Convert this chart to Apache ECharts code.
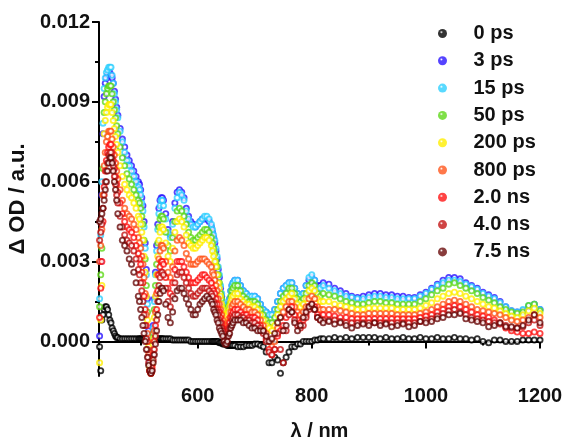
<!DOCTYPE html>
<html><head><meta charset="utf-8">
<script src="https://cdn.jsdelivr.net/npm/echarts@6/dist/echarts.min.js"></script>
<style>html,body{margin:0;padding:0;background:#fff}#c{width:564px;height:440px}</style>
</head><body><div id="c"></div>
<script>
// wavelengths (nm)
const WAVELENGTHS = [
428,430,432,434,436,438,440,442,444,446,448,450,452,454,456,458,460,
464,468,472,476,480,484,488,492,496,
498,500,502,504,506,508,510,512,514,516,518,520,522,524,526,528,530,532,534,536,538,540,
544,548,552,556,560,564,568,572,576,580,584,588,592,596,600,604,608,612,616,620,624,
626,628,630,632,634,636,638,640,642,644,646,648,650,652,654,656,658,660,662,
665,670,675,680,685,690,695,700,705,710,715,720,725,730,735,740,745,750,755,760,765,770,775,780,785,790,795,800,805,810,815,
820,830,840,850,860,870,880,890,900,910,920,930,940,950,960,970,980,990,1000,1010,1020,1030,1040,1050,1060,1070,1080,1090,1100,1110,1120,1130,1140,1150,1160,1170,1180,1190,1200];
// ΔOD values in units of 1e-4
const SCALE = 1e-4;
const OD_0ps = [
-2,-11,8,10,12,13,13,12,10,8,7,5,4,3,2,1.5,1.5,
1,1,1,1,1,1,1,1,1,
1,1,1,1,1,1,0.5,0.5,0.5,0.5,0.5,0.5,1,1,1,1,1,1,1,1,1,1,
1,1,1,0.5,0.5,0.5,0.5,0.5,0.5,0.5,0.5,0,0,0,0,0,0,0,0,0,0,
0,0,0,0,0,0,-0.5,-0.5,-0.5,-1,-1,-1,-1,-1.5,-1.5,-1.5,-1.5,-1.5,-1.5,
-1.5,-2,-2,-2,-1.5,-1.5,-1.5,-1,-1,-1.5,-2,-4,-8,-8,-6,-7,-12,-8,-6,-4,-2,-2,-1,-1,0,0,0,0,0.5,0.5,1,
1,1,1.5,1,1.5,1,1.5,1.5,1.5,1.5,1,1.5,1,1,1.5,1,1,1.5,1,1,1.5,1,1,1.5,1,1,0.5,1,0,-0.5,0.5,0.5,0,0,0,0.5,0.5,0.5,0.5];
const OD_3ps = [
2,30,55,78,92,97,99,100,101,101,100,99,97,94,91,88,85,
80,76,73,70,68,66,64,62,60,
59,57,54,51,45,37,27,16,4,-8,-11,-6,6,16,26,36,44,50,53,54,54,53,
48,42,40,45,52,56,57,56,54,50,47,45,44,43,44,45,46,46,46,45,43,
41,39,37,34,31,27,24,20,17,14,12,11,11,12,14,16,19,21,22,
23,23,21,19,18,17,17,17,16,14,12,11,10,10,12,15,18,20,21,22,22,20,18,17,18,21,23,24,23,21,21,
22,21.5,20,19,18,17,16.5,17,17.5,18,18,17.5,17.5,17,17,16.5,16.5,17.5,18.5,20,21.5,23,24,24,23.5,22,21,20,18.5,17.5,16.5,15,13,11.5,11,11.5,13,14,12];
const OD_15ps = [
16,40,60,82,95,99,101,102,103,103,103,100,97,93,90,87,84,
79,75,71,68,66,64,62,60,58,
57,55,52,49,43,35,25,14,2,-9,-11,-6,5,15,25,34,42,48,51,53,53,51,
46,41,39,44,50,54,56,55,53,49,46,44,43,43,44,45,46,47,47,46,44,
42,40,38,35,32,28,25,21,18,15,13,12,11,12,14,16,19,21,22,
23,23,21,19,18,17,17,17,16,14,12,11,10,10,12,15,18,20,21,22,22,20,18,17,18,21,24,25,23,20,20,
21,20,19,18,17,16.5,16,16,16.5,17,17,16.5,16.5,16,16,16,16,17,18,19.5,21,22,23,23,22.5,21.5,20.5,19.5,18,17,16,14.5,13,11.5,11,12,13.5,14,12];
const OD_50ps = [
13,25,35,65,86,90,93,95,96,96,96,93,90,87,84,81,78,
73,69,66,63,61,59,57,55,53,
52,50,47,44,38,31,21,11,0,-9,-11,-7,3,12,21,29,37,43,46,47,47,46,
41,36,34,39,45,49,50,49,47,44,41,39,38,38,39,40,41,42,42,41,39,
37,35,33,30,28,25,22,18,16,13,11,10,10,11,12,14,17,19,20,
21,21,19,17,16,15,15,15,14,12,10,8,7,7,9,12,15,17,18,20,20,18,16,15,16,18,21,22,21,18,17,
18,17.5,17,16,15,14.5,14,14,14.5,15,15,14.5,14.5,14,14,14,14,15,16,17.5,19,20,21.5,22,21,20,19,18,16.5,15.5,14.5,13,12,11,10.5,11,13.5,14,11.5];
const OD_200ps = [
-8,8,21,55,78,83,86,88,89,89,89,86,83,80,77,74,71,
66,62,59,57,55,54,52,50,47,
46,44,41,38,32,26,17,8,-2,-10,-12,-8,1,9,17,25,32,38,41,43,43,42,
37,32,30,35,41,45,46,45,43,40,37,36,35,35,36,37,38,39,39,38,36,
34,32,30,28,25,22,20,17,14,12,10,9,9,10,11,13,15,16,17,
18,18,16,15,14,14,13,13,12,10,8,6,5,4,6,10,13,15,16,17,18,16,14,13,14,16,19,20,19,16,15,
15,15,14,13.5,13,12.5,12,12,12.5,12.5,12.5,12.5,12.5,12,12,12,12,12.5,13.5,14.5,16,17,18,18.5,18,17,16,15,14,13,12.5,11.5,10.5,9.5,9,10,11.5,12.5,10.5];
const OD_800ps = [
30,36,42,55,66,71,75,77,79,79,79,76,73,70,67,64,61,
57,53,50,48,47,46,44,42,39,
37,35,32,29,24,18,10,3,-5,-11,-12,-9,-3,4,11,18,25,31,34,36,36,35,
30,26,24,28,34,38,39,38,36,33,31,29,29,29,30,31,31,31,30,29,28,
26,25,23,21,19,16,14,12,10,8,6,5,5,6,7,9,11,13,14,
15,15,14,13,12,12,11,11,10,8,6,3,0,-2,0,5,9,11,13,15,15,13,11,10,11,13,16,17,16,13,12,
12,12,12,11.5,11,10.5,10,10,10.5,10.5,10.5,10.5,10.5,10,10,10,10,10.5,11,12,13,14,15,15.5,15,14,13,12,11.5,11,10.5,10,9,8,7.5,8,9,10,9];
const OD_2ns = [
9,20,30,45,58,64,68,71,73,74,74,71,68,65,62,59,56,
52,48,45,43,42,41,39,36,33,
31,29,26,22,17,12,6,0,-6,-11,-12,-10,-5,0,6,12,19,25,28,30,30,29,
24,20,18,22,27,30,30,30,28,26,24,22,22,22,23,24,25,25,24,23,22,
20,19,18,16,14,12,11,9,7,5,4,3,3,4,5,7,9,10,11,
12,12,11,10,10,9,9,9,8,6,4,1,-3,-5,-3,2,4,6,9,12,13,10,8,7,8,10,13,14,13,10,9,
10,10,9.5,9,9,8.5,8.5,8.5,8.5,8.5,8.5,8.5,8.5,8.5,8.5,8.5,8.5,9,9.5,10,11,12,13,13.5,13,12,11,10,9.5,9,8,7,5,4,3.5,3,3,3.5,3];
const OD_4ns = [
38,41,44,50,55,60,64,67,70,71,71,69,66,62,59,55,52,
47,43,40,38,37,36,34,31,27,
25,22,19,15,10,6,1,-3,-8,-11,-12,-11,-7,-3,2,8,15,21,24,26,26,25,
20,15,13,17,22,25,26,26,24,22,20,18,17,17,18,19,20,20,20,19,18,
17,15,14,12,11,10,8,7,5,4,3,1,1,2,3,5,6,8,9,
10,10,9,9,8,8,7,7,6,5,3,0,-4,-5,-3,3,-3,-8,4,10,11,8,6,5,6,9,12,13,12,9,8,
8,8,8,7.5,7,7,7,7,7,7,7,7,7,7,7,7,7,7.5,8,8.5,9.5,10.5,11.5,12,11,10,9,8.5,8,7.5,7,6.5,6,5,5,5.5,7,8,6];
const OD_7p5ns = [
45,46,48,50,53,57,60,64,67,69,69,67,64,60,57,53,48,
43,38,36,34,31,29,26,22,17,
15,12,9,6,3,0,-3,-6,-9,-11,-12,-11,-8,-5,-1,4,10,15,18,20,20,19,
14,9,7,11,16,19,20,20,18,16,14,12,10,10,12,14,15,16,17,16,15,
14,12,11,10,8,7,5,4,3,2,0,-1,-1,0,2,3,5,6,7,
8,8,8,7,7,6,5,5,4,4,4,2,0,1,3,7,9,4,6,12,11,7,4,6,9,11,13,14,12,9,8,
7,7.5,6.5,7,6,5,6,6.5,6,7,6,6.5,5.5,6,6.5,5.5,6,7.5,7,7.5,8.5,9,10,10,10.5,8.5,8,7.5,7,5.5,6,7,5.5,5.5,5,6,8,10,7];

const SERIES_NAMES = ['0 ps','3 ps','15 ps','50 ps','200 ps','800 ps','2.0 ns','4.0 ns','7.5 ns'];
const SERIES_VALUES = [OD_0ps,OD_3ps,OD_15ps,OD_50ps,OD_200ps,OD_800ps,OD_2ns,OD_4ns,OD_7p5ns];
const SERIES_COLORS = ['#000000','#2a14ff','#2fd0ff','#5fd81a','#ffee00','#ff561c','#ff1414','#c41616','#6a0b0b'];
const Y_TICKS = [0, 0.003, 0.006, 0.009, 0.012];
const Y_MINOR = [0.0015, 0.0045, 0.0075, 0.0105];
const X_TICKS = [600, 800, 1000, 1200];
const X_MINOR = [500, 700, 900, 1100];

const FONT = 'Arial, "Liberation Sans", sans-serif';
const FS = 20;
const chart = echarts.init(document.getElementById('c'), null, {renderer:'canvas'});

function markerFill(c){
  return new echarts.graphic.RadialGradient(0.5,0.5,0.5,[
    {offset:0,color:'#ffffff'},{offset:0.3,color:'#ffffff'},{offset:0.62,color:c},{offset:1,color:c}]);
}
function sphereFill(c){
  return new echarts.graphic.RadialGradient(0.38,0.35,0.62,[
    {offset:0,color:'#ffffff'},{offset:0.28,color:c},{offset:1,color:c}]);
}

const series = SERIES_NAMES.map((name,k)=>({
  name, type:'scatter', xAxisIndex:0, yAxisIndex:0,
  symbol:'circle', symbolSize:7,
  itemStyle:{color:markerFill(SERIES_COLORS[k])},
  emphasis:{disabled:true},
  data: WAVELENGTHS.map((w,i)=>[w, SERIES_VALUES[k][i]*SCALE])
}));

const axisLine = {show:true, lineStyle:{color:'#000', width:2}};
const txt = {fontFamily:FONT, fontSize:FS, fontWeight:'bold', color:'#111'};
chart.setOption({
  animation:false,
  backgroundColor:'#fff',
  grid:{left:99, right:24, top:22, bottom:64, containLabel:false, outerBoundsMode:'none'},
  legend:{
    orient:'vertical', left:433, top:18.5, itemWidth:52, itemHeight:9, itemGap:7.3,
    icon:'circle',
    textStyle:txt,
    data: SERIES_NAMES.map((n,k)=>({name:n, icon:'circle', itemStyle:{color:sphereFill(SERIES_COLORS[k])}}))
  },
  xAxis:[{
    type:'value', min:427, max:1200, position:'bottom',
    name:'λ / nm', nameLocation:'middle', nameGap:45,
    nameTextStyle:txt,
    axisLine, splitLine:{show:false},
    axisTick:{show:true, customValues:X_TICKS, length:7, lineStyle:{color:'#000', width:2}},
    axisLabel:Object.assign({customValues:X_TICKS, formatter:v=>String(v), margin:10}, txt)
  },{
    type:'value', min:427, max:1200, position:'bottom',
    axisLine:{show:false}, splitLine:{show:false}, axisLabel:{show:false},
    axisTick:{show:true, customValues:X_MINOR, length:4, lineStyle:{color:'#000', width:2}}
  }],
  yAxis:[{
    type:'value', min:-0.0013, max:0.012, position:'left',
    name:'Δ OD / a.u.', nameLocation:'middle', nameGap:65,
    nameTextStyle:Object.assign({}, txt, {fontSize:22}),
    axisLine, splitLine:{show:false},
    axisTick:{show:true, customValues:Y_TICKS, length:7, lineStyle:{color:'#000', width:2}},
    axisLabel:Object.assign({customValues:Y_TICKS, formatter:v=>v.toFixed(3), margin:9}, txt)
  },{
    type:'value', min:-0.0013, max:0.012, position:'left',
    axisLine:{show:false}, splitLine:{show:false}, axisLabel:{show:false},
    axisTick:{show:true, customValues:Y_MINOR, length:4, lineStyle:{color:'#000', width:2}}
  }],
  series
});
</script></body></html>
